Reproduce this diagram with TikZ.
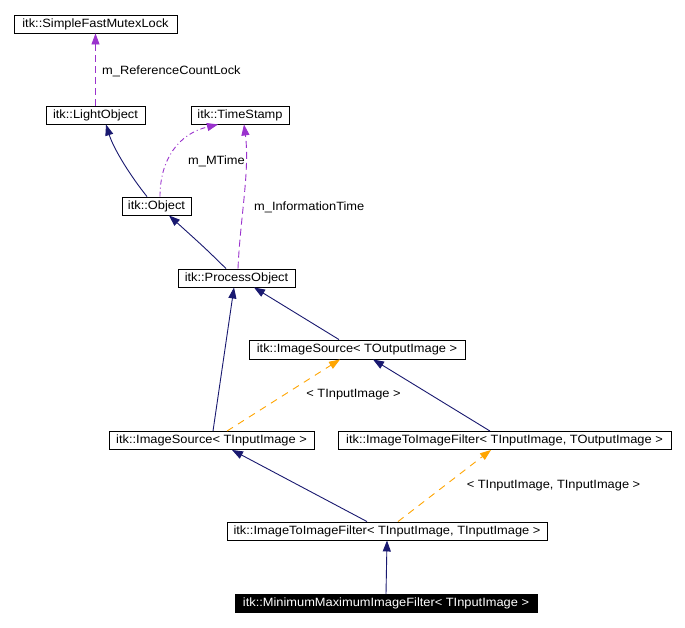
\documentclass[tikz,border=0pt]{standalone}
\usepackage{fontspec}
\setmainfont{Liberation Sans}[FakeStretch=1.07]
\usetikzlibrary{arrows.meta}
\definecolor{navyc}{HTML}{191970}
\definecolor{purp}{HTML}{9A32CD}
\definecolor{orng}{HTML}{FFA500}
\begin{document}
\begin{tikzpicture}[x=1pt,y=-1pt,
 cls/.style={draw=black, line width=0.9pt, inner sep=0pt, minimum height=18pt, font=\fontsize{12}{14}\selectfont},
 tipstyle/.style={-{Triangle[length=11pt,width=8pt]}},
 inh/.style={draw=navyc, line width=0.9pt, tipstyle},
 usedash/.style={draw=purp, line width=0.9pt, dash pattern=on 7pt off 4pt, tipstyle},
 mtime/.style={draw=purp, line width=0.9pt, dash pattern=on 5pt off 3pt on 1pt off 3pt, tipstyle},
 tmpl/.style={draw=orng, line width=0.9pt, dash pattern=on 7pt off 6pt, tipstyle},
 lbl/.style={font=\fontsize{12}{14}\selectfont, inner sep=0pt}]
\useasboundingbox[fill=white] (0,0) rectangle (685,627);

\node[cls, minimum width=163pt] (sfml) at (95.5,24) {itk::SimpleFastMutexLock};
\node[cls, minimum width=99pt] (lo) at (95.5,115) {itk::LightObject};
\node[cls, minimum width=98pt] (ts) at (240,115) {itk::TimeStamp};
\node[cls, minimum width=69pt] (obj) at (156.5,206) {itk::Object};
\node[cls, minimum width=117pt] (po) at (236.5,278) {itk::ProcessObject};
\node[cls, minimum width=216pt, minimum height=19pt] (isout) at (357,349.5) {itk::ImageSource< TOutputImage >};
\node[cls, minimum width=205pt] (isin) at (211.5,440.5) {itk::ImageSource< TInputImage >};
\node[cls, minimum width=333pt] (i2iout) at (504.5,440.5) {itk::ImageToImageFilter< TInputImage, TOutputImage >};
\node[cls, minimum width=320pt] (i2iin) at (387,531) {itk::ImageToImageFilter< TInputImage, TInputImage >};
\node[cls, minimum width=302pt, fill=black, text=white] (mm) at (386,603.5) {itk::MinimumMaximumImageFilter< TInputImage >};

\node[lbl, anchor=west] (l1) at (102,71) {m\_ReferenceCountLock};
\node[lbl] (l2) at (216.5,161) {m\_MTime};
\node[lbl, anchor=west] (l3) at (254,207) {m\_InformationTime};
\node[lbl] (l4) at (353.5,395) {< TInputImage >};
\node[lbl] (l5) at (553.5,486) {< TInputImage, TInputImage >};

\draw[usedash] (lo.north) -- (sfml.south);
\draw[inh] ([xshift=-9.5pt]obj.north) .. controls (132,178) and (114,150) .. ([xshift=10.5pt]lo.south);
\draw[mtime] ([xshift=3.5pt]obj.north) .. controls (160,160) and (178,134) .. ([xshift=-22pt]ts.south);
\draw[usedash] ([xshift=1.5pt]po.north) .. controls (240,220) and (250,170) .. ([xshift=4pt]ts.south);
\draw[inh] ([xshift=-10.5pt]po.north) .. controls (205,248) .. ([xshift=12.5pt]obj.south);
\draw[inh] ([xshift=-18pt]isout.north) -- ([xshift=17.5pt]po.south);
\draw[inh] ([xshift=1.5pt]isin.north) -- ([xshift=-2.5pt]po.south);
\draw[tmpl] ([xshift=15.5pt]isin.north) -- ([xshift=-17pt]isout.south);
\draw[inh] ([xshift=-14.5pt]i2iout.north) -- ([xshift=16pt]isout.south);
\draw[inh] ([xshift=-20pt]i2iin.north) -- ([xshift=20.5pt]isin.south);
\draw[tmpl] ([xshift=11pt]i2iin.north) -- ([xshift=-13.5pt]i2iout.south);
\draw[inh] (mm.north) -- (i2iin.south);
\end{tikzpicture}
\end{document}
